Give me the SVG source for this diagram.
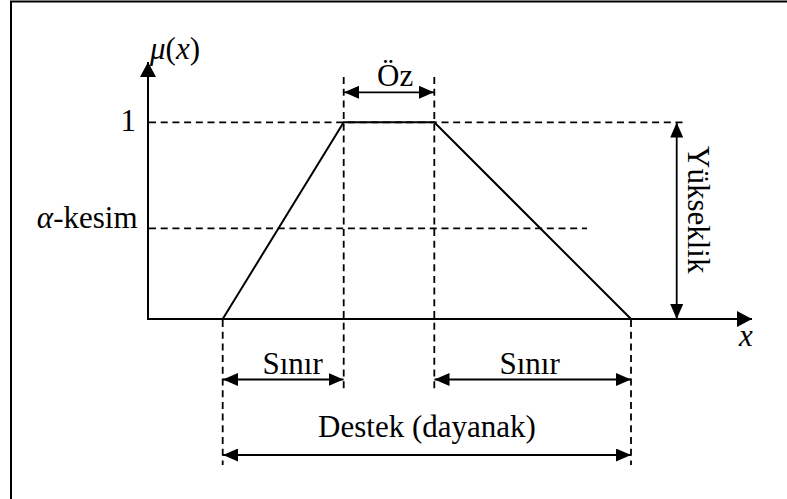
<svg xmlns="http://www.w3.org/2000/svg" width="787" height="499" viewBox="0 0 787 499">
<defs>
<style>
.ln{stroke:#000;stroke-width:2;fill:none}
.dash{stroke:#000;stroke-width:1.8;fill:none;stroke-dasharray:7 4.7}
.dim{stroke:#000;stroke-width:1.8;fill:none;marker-start:url(#ah);marker-end:url(#ah)}
.t{font-family:"Liberation Serif","Times New Roman",serif;font-size:31px;fill:#000}
.it{font-style:italic}
</style>
<marker id="ah" markerUnits="userSpaceOnUse" markerWidth="16" markerHeight="13" refX="15" refY="6.5" orient="auto-start-reverse" viewBox="0 0 16 13">
<path d="M0,0 L15,6.5 L0,13 z" fill="#000"/>
</marker>
<marker id="axh" markerUnits="userSpaceOnUse" markerWidth="16" markerHeight="16" refX="15" refY="8" orient="auto" viewBox="0 0 16 16">
<path d="M0,0 L15,8 L0,16 z" fill="#000"/>
</marker>
</defs>
<rect width="787" height="499" fill="#fff"/>
<path d="M11,500 V1.5 H790" class="ln"/>
<g id="axes">
<line x1="148" y1="319" x2="148" y2="62" class="ln" marker-end="url(#axh)"/>
<line x1="147" y1="319" x2="752" y2="319" class="ln" marker-end="url(#axh)"/>
<text x="150" y="59" class="t"><tspan class="it">μ</tspan>(<tspan class="it">x</tspan>)</text>
<text x="739" y="346" class="t it">x</text>
</g>
<g id="guides">
<line x1="149" y1="122.3" x2="687" y2="122.3" class="dash"/>
<line x1="149" y1="228.3" x2="587" y2="228.3" class="dash"/>
<line x1="343.7" y1="77" x2="343.7" y2="390" class="dash"/>
<line x1="434.3" y1="77" x2="434.3" y2="390" class="dash"/>
<line x1="222.7" y1="320" x2="222.7" y2="465" class="dash"/>
<line x1="631" y1="320" x2="631" y2="465" class="dash"/>
</g>
<g id="trapezoid">
<polyline points="222.7,319 343.7,122.3 434.3,122.3 631,319" class="ln" stroke-width="1.8"/>
</g>
<g id="labels">
<text x="136" y="130.5" class="t" text-anchor="end">1</text>
<text x="137.5" y="227.7" class="t" text-anchor="end"><tspan class="it">α</tspan>-kesim</text>
</g>
<g id="connectors">
<line x1="344" y1="92.3" x2="434" y2="92.3" class="dim"/>
<line x1="223" y1="379.5" x2="343.5" y2="379.5" class="dim"/>
<line x1="434.5" y1="379.5" x2="631" y2="379.5" class="dim"/>
<line x1="223" y1="455" x2="631" y2="455" class="dim"/>
<line x1="676.7" y1="122.5" x2="676.7" y2="319" class="dim"/>
</g>
<g id="oz"><text x="377" y="86" class="t">Öz</text></g>
<g id="sinir-left"><text x="262.5" y="374" class="t">Sınır</text></g>
<g id="sinir-right"><text x="499.5" y="374" class="t">Sınır</text></g>
<g id="destek"><text x="427" y="436.5" class="t" text-anchor="middle">Destek (dayanak)</text></g>
<g id="yukseklik"><text transform="translate(688,146) rotate(90)" class="t">Yükseklik</text></g>
</svg>
